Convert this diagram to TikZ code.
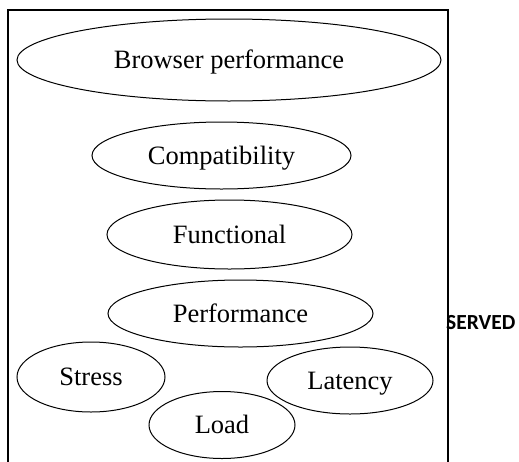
\documentclass[tikz,border=0pt]{standalone}
\usepackage{fontspec}
\setmainfont{Liberation Serif}
\newfontfamily\calfont{Carlito}
\usetikzlibrary{shapes.geometric}
\begin{document}
\begin{tikzpicture}[x=1pt,y=-1pt,
  oval/.style={ellipse, draw, line width=1pt, inner sep=0pt,
    font=\fontsize{26.5}{30}\selectfont, text height=17.5pt, text depth=0pt},
  frame/.style={line width=1.3pt}]
\useasboundingbox (0,0) rectangle (519,461);
\node[anchor=base west, font=\calfont\bfseries\fontsize{21.5}{24}\selectfont, inner sep=0pt] (served) at (446,329) {SERVED};
\coordinate (fbl) at (8,462);
\coordinate (ftl) at (8,10);
\coordinate (ftr) at (448,10);
\coordinate (fbr) at (448,462);
\draw[frame] (fbl) -- (ftl) -- (ftr) -- (fbr);
\node[oval, minimum width=424pt, minimum height=82pt] (browser) at (229,60) {Browser performance};
\node[oval, minimum width=259pt, minimum height=67pt] (compat) at (221.5,155.5) {Compatibility};
\node[oval, minimum width=245pt, minimum height=69pt] (func) at (229.5,234.5) {Functional};
\node[oval, minimum width=265pt, minimum height=67pt] (perf) at (240.5,313.5) {Performance};
\node[oval, minimum width=148pt, minimum height=70pt] (stress) at (91,377) {Stress};
\node[oval, minimum width=166pt, minimum height=67pt] (latency) at (350,380.5) {Latency};
\node[oval, minimum width=146pt, minimum height=67pt] (load) at (222,425) {Load};
\end{tikzpicture}
\end{document}
